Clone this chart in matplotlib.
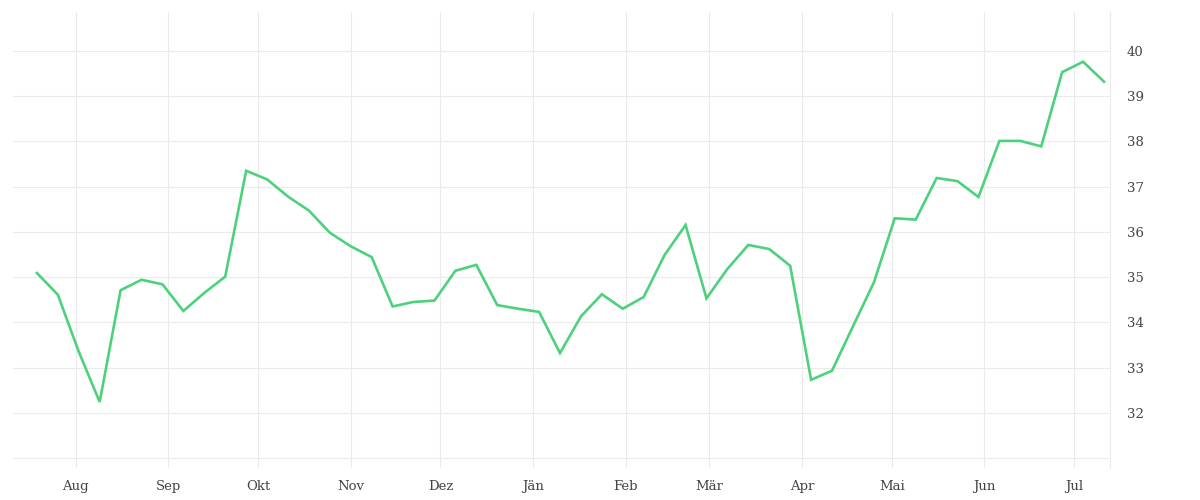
import matplotlib
matplotlib.use("Agg")
import matplotlib.pyplot as plt
import matplotlib.dates as mdates
import numpy as np
import pandas as pd

start_date = "2020-07-19"
n_weeks = 52
values = [35.09, 34.61, 33.35, 32.24, 34.71, 34.94, 34.84, 34.25, 34.65, 35.01,
          37.35, 37.16, 36.78, 36.47, 35.98, 35.68, 35.44, 34.35, 34.45, 34.48,
          35.14, 35.27, 34.38, 34.30, 34.23, 33.32, 34.13, 34.62, 34.30, 34.56,
          35.49, 36.15, 34.53, 35.18, 35.71, 35.62, 35.25, 32.73, 32.93, 33.91,
          34.88, 36.30, 36.27, 37.19, 37.12, 36.77, 38.01, 38.01, 37.89, 39.53,
          39.76, 39.32]
month_labels = ["Aug", "Sep", "Okt", "Nov", "Dez", "Jän", "Feb", "Mär", "Apr", "Mai", "Jun", "Jul"]
month_starts = ["2020-08-01", "2020-09-01", "2020-10-01", "2020-11-01", "2020-12-01", "2021-01-01",
                "2021-02-01", "2021-03-01", "2021-04-01", "2021-05-01", "2021-06-01", "2021-07-01"]
y_ticks = [32, 33, 34, 35, 36, 37, 38, 39, 40]
grid_y = [31, 32, 33, 34, 35, 36, 37, 38, 39, 40]

dates = pd.date_range(start_date, periods=n_weeks, freq="7D")

fig = plt.figure(figsize=(12, 5), dpi=100)
ax = fig.add_axes([13/1200, 1 - 467.5/500, (1110 - 13)/1200, (467.5 - 12)/500])

grid_c = "#ebebeb"
for gy in grid_y:
    ax.axhline(gy, color=grid_c, lw=0.8, zorder=0)
for ms in month_starts:
    ax.axvline(pd.Timestamp(ms), color=grid_c, lw=0.8, zorder=0)

ax.plot(dates, values, color="#4dd17c", lw=1.9, zorder=3, solid_joinstyle="miter")

ax.set_xlim(pd.Timestamp("2020-07-11"), pd.Timestamp("2021-07-13"))
ax.set_ylim(30.79, 40.86)

ax.set_xticks([pd.Timestamp(m) for m in month_starts])
ax.set_xticklabels(month_labels)
ax.yaxis.tick_right()
ax.set_yticks(y_ticks)
ax.set_yticklabels([str(v) for v in y_ticks])

for s in ["top", "left", "bottom"]:
    ax.spines[s].set_visible(False)
ax.spines["right"].set_color(grid_c)
ax.spines["right"].set_linewidth(0.8)

ax.tick_params(axis="both", length=0, colors="#444444", labelsize=10)
ax.tick_params(axis="x", pad=9)
ax.tick_params(axis="y", pad=12)
for lab in ax.get_xticklabels() + ax.get_yticklabels():
    lab.set_family("DejaVu Serif")
    lab.set_fontsize(9.5)
    lab.set_color("#444444")

fig.savefig("out.png", dpi=100, facecolor="white")
